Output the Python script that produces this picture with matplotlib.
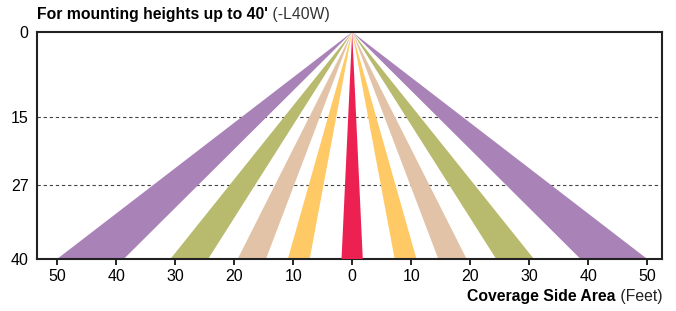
import matplotlib.pyplot as plt
from matplotlib.patches import Polygon

plt.rcParams['font.family'] = ['Liberation Sans', 'DejaVu Sans']

# wedge footprints at the floor (feet from centre), symmetric pairs
bands = [(38.7, 50.0), (24.4, 30.8), (14.6, 19.4), (7.2, 10.9)]
band_colors = ['#A982B8', '#B8BA6E', '#E2C3A8', '#FFC966']
centre = (-1.8, 1.8)
centre_color = '#EC2152'

height = 40
y_ticks = [0, 15, 27, 40]
grid_lines = [15, 27]
x_ticks = [-50, -40, -30, -20, -10, 0, 10, 20, 30, 40, 50]
x_labels = ['50', '40', '30', '20', '10', '0', '10', '20', '30', '40', '50']

fig = plt.figure(figsize=(6.76, 3.11), dpi=100)
ax = fig.add_axes([37 / 676, 1 - 259 / 311, (662 - 37) / 676, (259 - 32) / 311])

for y in grid_lines:
    ax.axhline(y, color='#444444', lw=0.8, ls=(0, (3, 2.5)), zorder=1)

for (a, b), c in zip(bands, band_colors):
    for s in (1, -1):
        ax.add_patch(Polygon([(0, 0), (s * a, height), (s * b, height)],
                             closed=True, color=c, lw=0, zorder=2))
ax.add_patch(Polygon([(0, 0), (centre[0], height), (centre[1], height)],
                     closed=True, color=centre_color, lw=0, zorder=3))

ax.set_xlim(-53.4, 52.5)
ax.set_ylim(height, 0)
ax.set_yticks(y_ticks)
ax.set_xticks(x_ticks)
ax.set_xticklabels(x_labels)
ax.tick_params(axis='y', length=0, pad=6, labelsize=11.5)
ax.tick_params(axis='x', length=4, width=1.2, pad=3, labelsize=11.5)
for sp in ax.spines.values():
    sp.set_linewidth(1.5)
    sp.set_color('#222222')

# title
t = fig.text(37 / 676, 1 - 15 / 311, "For mounting heights up to 40'",
             fontsize=11.3, fontweight='bold', va='center', ha='left')
ax.annotate(' (-L40W)', xy=(1, 0.5), xycoords=t, va='center', ha='left',
            fontsize=11.3, color='#333333')

# x label
t2 = fig.text(662 / 676, 1 - 297 / 311, ' (Feet)', fontsize=11.3,
              va='center', ha='right', color='#222222')
ax.annotate('Coverage Side Area', xy=(0, 0.5), xycoords=t2, va='center',
            ha='right', fontsize=11.3, fontweight='bold')

fig.savefig('out.png', dpi=100)
